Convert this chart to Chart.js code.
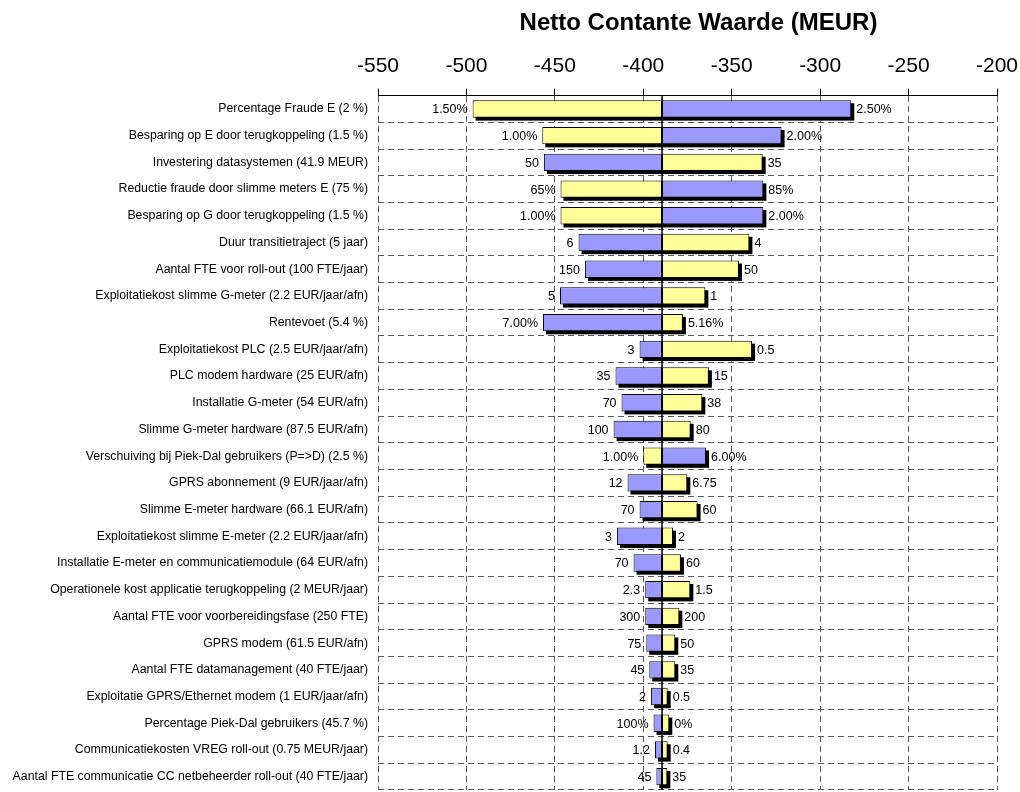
<!DOCTYPE html>
<html>
<head>
<meta charset="utf-8">
<script src="https://cdn.jsdelivr.net/npm/chart.js@4"></script>
<style>
  body { margin: 0; background: #fff; }
</style>
</head>
<body>
<canvas id="myChart" width="1020" height="792"></canvas>
<script>
const categories = [
  "Percentage Fraude E (2 %)",
  "Besparing op E door terugkoppeling (1.5 %)",
  "Investering datasystemen (41.9 MEUR)",
  "Reductie fraude door slimme meters E (75 %)",
  "Besparing op G door terugkoppeling (1.5 %)",
  "Duur transitietraject (5 jaar)",
  "Aantal FTE voor roll-out (100 FTE/jaar)",
  "Exploitatiekost slimme G-meter (2.2 EUR/jaar/afn)",
  "Rentevoet (5.4 %)",
  "Exploitatiekost PLC (2.5 EUR/jaar/afn)",
  "PLC modem hardware (25 EUR/afn)",
  "Installatie G-meter (54 EUR/afn)",
  "Slimme G-meter hardware (87.5 EUR/afn)",
  "Verschuiving bij Piek-Dal gebruikers (P=>D) (2.5 %)",
  "GPRS abonnement (9 EUR/jaar/afn)",
  "Slimme E-meter hardware (66.1 EUR/afn)",
  "Exploitatiekost slimme E-meter (2.2 EUR/jaar/afn)",
  "Installatie E-meter en communicatiemodule (64 EUR/afn)",
  "Operationele kost applicatie terugkoppeling (2 MEUR/jaar)",
  "Aantal FTE voor voorbereidingsfase (250 FTE)",
  "GPRS modem (61.5 EUR/afn)",
  "Aantal FTE datamanagement (40 FTE/jaar)",
  "Exploitatie GPRS/Ethernet modem (1 EUR/jaar/afn)",
  "Percentage Piek-Dal gebruikers (45.7 %)",
  "Communicatiekosten VREG roll-out (0.75 MEUR/jaar)",
  "Aantal FTE communicatie CC netbeheerder roll-out (40 FTE/jaar)"
];

// NCW at the base case
const baseValue = -389.4;

const leftValues = [-496.5, -457.1, -456.2, -446.8, -446.8, -436.6, -433.0, -447.1, -456.7, -402.1,
  -415.7, -412.3, -416.8, -400.0, -408.9, -402.1, -414.9, -405.5, -398.9, -398.9,
  -398.3, -396.6, -395.6, -394.2, -393.4, -392.6];
const rightValues = [-282.4, -321.8, -332.5, -332.1, -332.1, -340.0, -345.9, -364.9, -377.6, -338.5,
  -362.9, -366.6, -373.2, -364.5, -375.1, -369.3, -383.2, -378.7, -373.4, -379.6,
  -381.9, -381.9, -386.2, -385.3, -386.2, -386.4];

const leftLabels = ["1.50%", "1.00%", "50", "65%", "1.00%", "6", "150", "5", "7.00%", "3",
  "35", "70", "100", "1.00%", "12", "70", "3", "70", "2.3", "300",
  "75", "45", "2", "100%", "1.2", "45"];
const rightLabels = ["2.50%", "2.00%", "35", "85%", "2.00%", "4", "50", "1", "5.16%", "0.5",
  "15", "38", "80", "6.00%", "6.75", "60", "2", "60", "1.5", "200",
  "50", "35", "0.5", "0%", "0.4", "35"];

// Y = yellow (low input value), B = blue (high input value) for the left bar
const leftColorKeys = ["Y", "Y", "B", "Y", "Y", "B", "B", "B", "B", "B",
  "B", "B", "B", "Y", "B", "B", "B", "B", "B", "B",
  "B", "B", "B", "B", "B", "B"];

const xTicks = [-550, -500, -450, -400, -350, -300, -250, -200];

const YELLOW = '#FFFF99';
const BLUE = '#9999FF';
const FONT = "Arial, 'Liberation Sans', sans-serif";

const leftColors = leftColorKeys.map(k => k === 'Y' ? YELLOW : BLUE);
const rightColors = leftColorKeys.map(k => k === 'Y' ? BLUE : YELLOW);

const shadowPlugin = {
  id: 'shadows',
  beforeDatasetsDraw(chart) {
    const ctx = chart.ctx;
    ctx.save();
    ctx.fillStyle = '#000';
    chart.data.datasets.forEach((ds, i) => {
      chart.getDatasetMeta(i).data.forEach(bar => {
        const p = bar.getProps(['x', 'y', 'base', 'height'], true);
        const x0 = Math.min(p.x, p.base);
        const w = Math.abs(p.x - p.base);
        ctx.fillRect(x0 + 3, p.y - p.height / 2 + 3, w, p.height);
      });
    });
    ctx.restore();
  }
};

const labelPlugin = {
  id: 'barLabels',
  afterDatasetsDraw(chart) {
    const ctx = chart.ctx;
    const xs = chart.scales.x;
    const area = chart.chartArea;
    ctx.save();
    // base case line
    ctx.strokeStyle = '#000';
    ctx.lineWidth = 1.5;
    const bx = xs.getPixelForValue(baseValue);
    ctx.beginPath();
    ctx.moveTo(bx, area.top);
    ctx.lineTo(bx, area.bottom);
    ctx.stroke();

    ctx.font = '12.5px ' + FONT;
    ctx.fillStyle = '#000';
    ctx.textBaseline = 'middle';
    chart.getDatasetMeta(0).data.forEach((bar, i) => {
      ctx.textAlign = 'right';
      ctx.fillText(leftLabels[i], Math.min(bar.x, bar.base) - 5, bar.y + 1);
    });
    chart.getDatasetMeta(1).data.forEach((bar, i) => {
      ctx.textAlign = 'left';
      ctx.fillText(rightLabels[i], Math.max(bar.x, bar.base) + 5, bar.y + 1);
    });

    // title
    ctx.font = 'bold 24px ' + FONT;
    ctx.textAlign = 'center';
    ctx.fillText('Netto Contante Waarde (MEUR)', (area.left + area.right) / 2 + 11, 23);
    ctx.restore();
  }
};

const ctx = document.getElementById('myChart').getContext('2d');

const myChart = new Chart(ctx, {
  type: 'bar',
  data: {
    labels: categories,
    datasets: [
      {
        label: 'links',
        data: leftValues.map(v => [baseValue, v]),
        backgroundColor: leftColors,
        borderColor: '#000',
        borderWidth: 1,
        borderSkipped: false
      },
      {
        label: 'rechts',
        data: rightValues.map(v => [baseValue, v]),
        backgroundColor: rightColors,
        borderColor: '#000',
        borderWidth: 1,
        borderSkipped: false
      }
    ]
  },
  options: {
    responsive: false,
    animation: false,
    indexAxis: 'y',
    layout: { padding: { top: 36.8, left: 0, right: 23, bottom: 2 } },
    datasets: {
      bar: { grouped: false, barPercentage: 0.65, categoryPercentage: 1 }
    },
    plugins: {
      legend: { display: false },
      title: { display: false },
      tooltip: { enabled: false }
    },
    scales: {
      x: {
        type: 'linear',
        position: 'top',
        min: -550,
        max: -200,
        afterBuildTicks: scale => { scale.ticks = xTicks.map(v => ({ value: v })); },
        afterFit: scale => {
          scale.height = 58.8;
          scale.paddingLeft = 0;
          scale.paddingRight = 0;
        },
        ticks: {
          color: '#000',
          font: { family: FONT, size: 21 },
          padding: 10,
          maxRotation: 0
        },
        grid: {
          color: '#5a5a5a',
          lineWidth: 1,
          tickColor: '#000',
          tickLength: 7
        },
        border: { display: true, color: '#000', width: 1, dash: [6, 4] }
      },
      y: {
        type: 'category',
        offset: true,
        afterFit: scale => {
          scale.width = 378;
          scale.paddingTop = 0;
          scale.paddingBottom = 0;
        },
        ticks: {
          color: '#000',
          font: { family: FONT, size: 12.3 },
          padding: 10
        },
        grid: {
          offset: true,
          color: '#5a5a5a',
          lineWidth: 1,
          drawTicks: false
        },
        border: { display: false, dash: [6, 4] }
      }
    }
  },
  plugins: [shadowPlugin, labelPlugin]
});
</script>
</body>
</html>
